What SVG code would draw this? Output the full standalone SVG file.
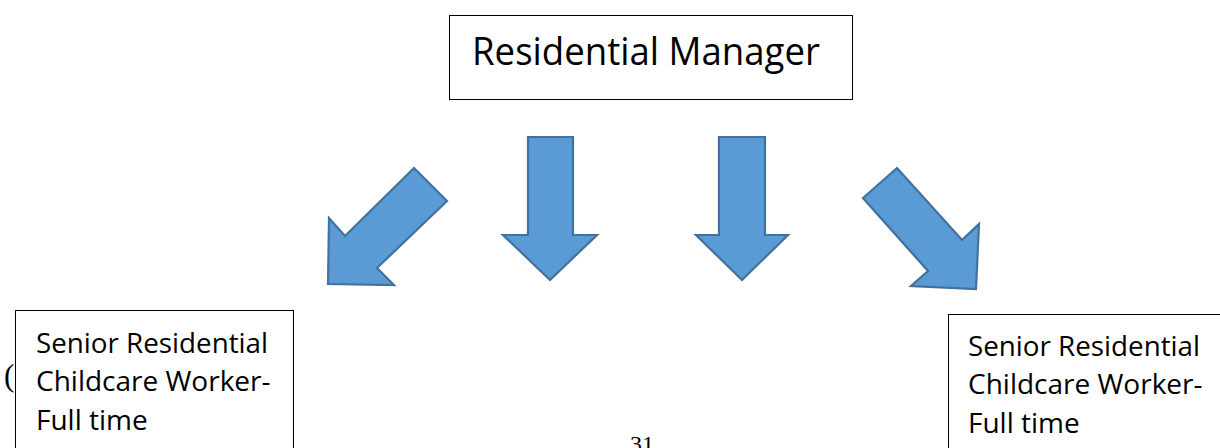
<svg xmlns="http://www.w3.org/2000/svg" width="1220" height="448" viewBox="0 0 1220 448">
<style>
.box{fill:#ffffff;stroke:#000000;stroke-width:1}
.lbl{font-family:"Open Sans","Liberation Sans",sans-serif;fill:#000000}
.arr{fill:#5B9BD5;stroke:#41719C;stroke-width:2.2;stroke-linejoin:miter}
.serif{font-family:"Liberation Serif","Times New Roman",serif;fill:#000000}
</style>
<rect width="1220" height="448" fill="#ffffff"/>
<text class="serif" x="4" y="386" font-size="31">(</text>
<text class="serif" x="630" y="452" font-size="24">31</text>
<g id="residential-manager">
<rect class="box" x="449.5" y="15.5" width="403" height="84"/>
<text class="lbl" x="472" y="65" font-size="39" textLength="348" lengthAdjust="spacingAndGlyphs">Residential Manager</text>
</g>
<g id="connectors">
<polygon class="arr" points="414,168 447,201 377,268 394,285 328,284 329,218 345,236"/>
<polygon class="arr" points="528,137 573,137 573,235 597,235 550,280 503,235 528,235"/>
<polygon class="arr" points="719,137 765,137 765,235 788,235 742,280 696,235 719,235"/>
<polygon class="arr" points="897,168 863,198 928,271 911,286 976,289 979,224 962,240"/>
</g>
<g id="senior-worker-left">
<rect class="box" x="15.5" y="310.5" width="278" height="150"/>
<text class="lbl" font-size="28">
<tspan x="36" y="353" textLength="232" lengthAdjust="spacingAndGlyphs">Senior Residential</tspan>
<tspan x="36" y="391">Childcare Worker-</tspan>
<tspan x="36" y="430">Full time</tspan>
</text>
</g>
<g id="senior-worker-right">
<rect class="box" x="948.5" y="314.5" width="300" height="150"/>
<text class="lbl" font-size="28">
<tspan x="968" y="356" textLength="232" lengthAdjust="spacingAndGlyphs">Senior Residential</tspan>
<tspan x="968" y="394">Childcare Worker-</tspan>
<tspan x="968" y="433">Full time</tspan>
</text>
</g>
</svg>
